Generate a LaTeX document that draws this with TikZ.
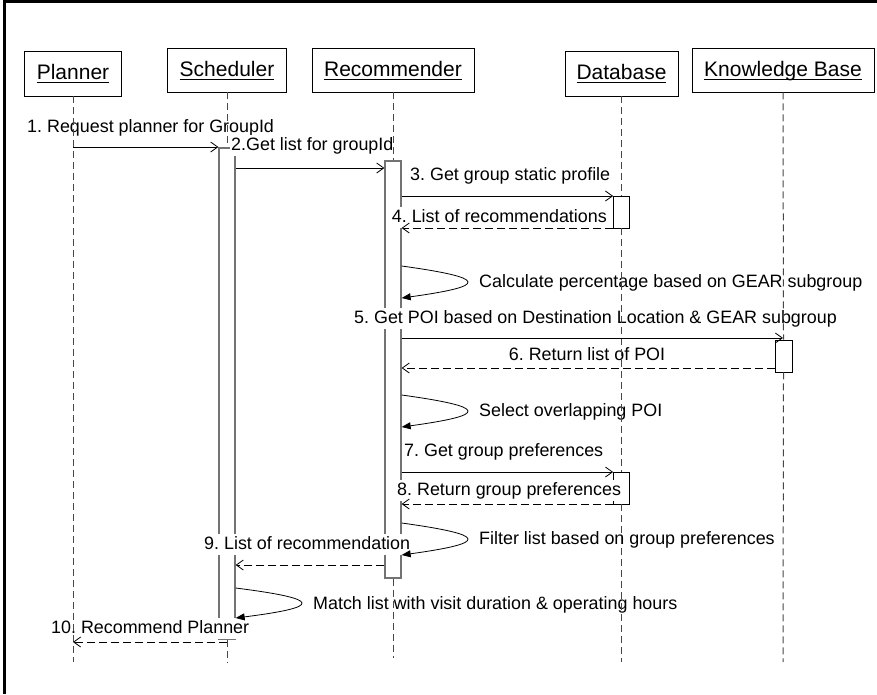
\documentclass[tikz,border=0pt]{standalone}
\usepackage{fontspec}
\setmainfont{Liberation Sans}
\usetikzlibrary{arrows.meta}
\frenchspacing

% underline drawn a fixed distance below the baseline
\newcommand{\ulname}[1]{\setbox0\hbox{#1}\rlap{\vrule width\wd0 height -2.6pt depth 3.7pt}\box0}

\tikzset{
  head/.style={draw, line width=0.8pt, font=\fontsize{21pt}{24pt}\selectfont,
    text height=16pt, text depth=4pt, inner sep=0pt},
  life/.style={draw=black!72, line width=1pt, dash pattern=on 7pt off 4pt},
  actbar/.style={draw=black!55, line width=1.3pt, fill=white, minimum width=16pt, inner sep=0pt},
  smallbar/.style={draw, line width=0.8pt, fill=white, minimum width=16pt, inner sep=0pt},
  lbl/.style={fill=white, inner xsep=1pt, inner ysep=2pt, text height=13pt, text depth=4pt,
    font=\fontsize{17.9pt}{20pt}\selectfont},
  call/.style={line width=0.8pt, -{Straight Barb[length=7pt,width=10pt]}},
  reply/.style={call, dash pattern=on 8pt off 4pt},
  self/.style={line width=0.8pt, -{Triangle[length=9pt,width=7pt]}},
}

\begin{document}
\begin{tikzpicture}[x=1pt,y=-1pt]
\useasboundingbox (0,0) rectangle (877,694);

% frame
\draw[line width=3pt] (4.7,694) -- (4.7,1.6) -- (877,1.6);

% participants
\node[head, minimum width=97pt,  minimum height=45pt] (planner) at (73,73.5)   {\ulname{Planner}};
\node[head, minimum width=119pt, minimum height=44pt] (sched)   at (227,70)    {\ulname{Scheduler}};
\node[head, minimum width=162pt, minimum height=44pt] (rec)     at (393,70)    {\ulname{Recommender}};
\node[head, minimum width=113pt, minimum height=45pt] (db)      at (621.5,73.5){\ulname{Database}};
\node[head, minimum width=182pt, minimum height=44pt] (kb)      at (783,70)    {\ulname{Knowledge Base}};

% lifeline ends
\coordinate (planner-end) at (73,662);
\coordinate (sched-end)   at (227,662);
\coordinate (rec-end)     at (393,658);
\coordinate (db-end)      at (621.5,662);
\coordinate (kb-end)      at (783,662);

% activation bars
\node[actbar, minimum height=491pt] (sbar) at (227,393.5) {};
\node[actbar, minimum height=417pt] (rbar) at (393,369.5) {};
\node[smallbar, minimum height=32pt] (dbar1) at (621.5,212) {};
\node[smallbar, minimum height=32pt] (dbar2) at (621.5,488) {};
\node[smallbar, minimum height=32pt, minimum width=17pt] (kbar) at (783.5,356) {};

% message labels
\node[lbl, anchor=base west] (l1)  at (26,132)  {1. Request planner for GroupId};
\node[lbl, anchor=base west] (l2)  at (230,150) {2.Get list for groupId};
\node[lbl, anchor=base west] (l3)  at (409,180) {3. Get group static profile};
\node[lbl, anchor=base east] (l4)  at (608,222) {4. List of recommendations};
\node[lbl, anchor=base west] (lA)  at (478,287) {Calculate percentage based on GEAR subgroup};
\node[lbl, anchor=base west] (l5)  at (353,323) {5. Get POI based on Destination Location \& GEAR subgroup};
\node[lbl, anchor=base]      (l6)  at (587,360) {6. Return list of POI};
\node[lbl, anchor=base west] (lB)  at (478,416) {Select overlapping POI};
\node[lbl, anchor=base west] (l7)  at (403,456) {7. Get group preferences};
\node[lbl, anchor=base west] (l8)  at (396,495) {8. Return group preferences};
\node[lbl, anchor=base west] (lC)  at (478,544) {Filter list based on group preferences};
\node[lbl, anchor=base west] (l9)  at (203,549) {9. List of recommendation};
\node[lbl, anchor=base west] (lD)  at (312,609) {Match list with visit duration \& operating hours};
\node[lbl, anchor=base west] (l10) at (50,633)  {10. Recommend Planner};

% lifelines, broken by the activation bars
\draw[life] (planner.south) -- (planner-end);
\draw[life] (sched.south) -- (sbar.north);
\draw[life] (sbar.south) -- (sched-end);
\draw[life] (rec.south) -- (rbar.north);
\draw[life] (rbar.south) -- (rec-end);
\draw[life] (db.south) -- (dbar1.north);
\draw[life] (dbar1.south) -- (dbar2.north);
\draw[life] (dbar2.south) -- (db-end);
\draw[life] (kb.south) -- (kbar.north);
\draw[life] (kbar.south) -- (kb-end);

% messages
\draw[call]  (planner-end |- 0,147) -- (sbar.west |- 0,147);
\draw[call]  (sbar.east |- 0,168) -- (rbar.west |- 0,168);
\draw[call]  (rbar.east |- 0,196) -- (dbar1.west |- 0,196);
\draw[reply] (dbar1.west |- 0,228) -- (rbar.east |- 0,228);
\draw[self]  (rbar.east |- 0,266) .. controls +(87,12) and +(87,-12) .. (rbar.east |- 0,298);
\draw[call]  (rbar.east |- 0,338) -- (kb-end |- 0,338);
\draw[reply] (kbar.west |- 0,368) -- (rbar.east |- 0,368);
\draw[self]  (rbar.east |- 0,395) .. controls +(87,12) and +(87,-12) .. (rbar.east |- 0,427);
\draw[call]  (rbar.east |- 0,472) -- (dbar2.west |- 0,472);
\draw[reply] (dbar2.west |- 0,504) -- (rbar.east |- 0,504);
\draw[self]  (rbar.east |- 0,523) .. controls +(87,12) and +(87,-12) .. (rbar.east |- 0,555);
\draw[reply] (rbar.west |- 0,565) -- (sbar.east |- 0,565);
\draw[self]  (sbar.east |- 0,588) .. controls +(87,11) and +(87,-11) .. (sbar.east |- 0,618);
\draw[reply] (sched-end |- 0,642) -- (planner-end |- 0,642);
\end{tikzpicture}
\end{document}
